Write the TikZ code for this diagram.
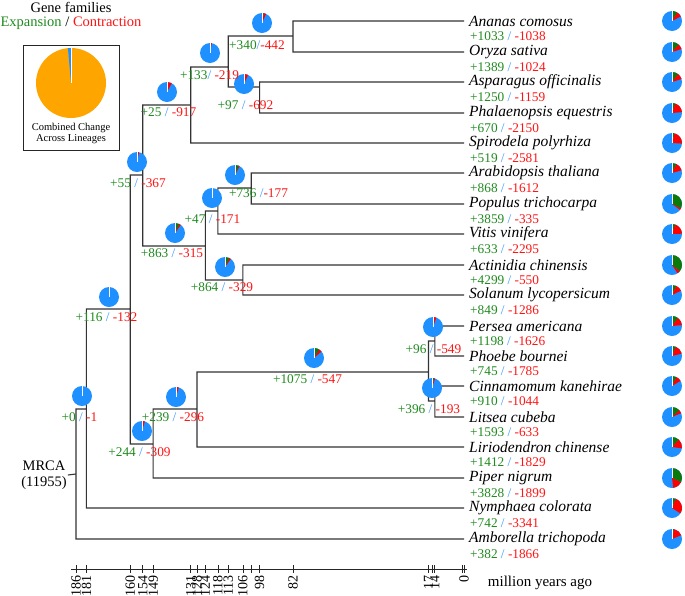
\documentclass[tikz,border=0pt]{standalone}
\usepackage{fontspec}
\setmainfont{Liberation Serif}
\usepackage{tikz}
\usetikzlibrary{positioning}

\definecolor{expgreen}{HTML}{1F8A1F}
\definecolor{conred}{HTML}{FF1414}
\definecolor{slashblue}{HTML}{3D9BFF}
\definecolor{pieblue}{HTML}{1E90FF}
\definecolor{piegreen}{HTML}{0B7A0B}
\definecolor{piered}{HTML}{FF0000}
\definecolor{pieorange}{HTML}{FFA500}

% age (million years) -> x
\newcommand{\ax}[1]{464-2.086*#1}
\newcommand{\chg}[2]{\textcolor{expgreen}{+#1} \textcolor{slashblue}{/} \textcolor{conred}{-#2}}
% pie: centre, radius, expansion, contraction (of 11955 families)
\newcommand{\genepie}[4]{%
  \pgfmathsetmacro\pieg{90-(#3/11955)*360}%
  \pgfmathsetmacro\pier{\pieg-(#4/11955)*360}%
  \fill[pieblue] (#1) circle (#2);
  \fill[piegreen] (#1) -- ++(90:#2) arc (90:\pieg:#2) -- cycle;
  \fill[piered] (#1) -- ++(\pieg:#2) arc (\pieg:\pier:#2) -- cycle;
  \draw[white,line width=0.4pt] (#1) -- ++(90:#2);
}

\begin{document}
\begin{tikzpicture}[x=1pt,y=-1pt,
    branch/.style={draw=black!80,line width=1.1pt},
    taxon/.style={anchor=west,inner sep=0pt,font=\fontsize{15.5}{17}\selectfont\itshape},
    count/.style={anchor=west,inner sep=0pt,font=\fontsize{13.3}{15}\selectfont},
    change/.style={inner sep=0pt,font=\fontsize{13.3}{15}\selectfont},
    agelabel/.style={anchor=east,rotate=90,inner sep=0pt,font=\fontsize{14}{16}\selectfont}]
\useasboundingbox (0,0) rectangle (685,595);

% legend
\node (title) at (71,7) {\fontsize{14.5}{16}\selectfont Gene families};
\node (key) at (71,23) {\fontsize{14.5}{16}\selectfont\textcolor{expgreen}{Expansion} / \textcolor{conred}{Contraction}};
\draw[line width=0.8pt,black!85] (23,45) rectangle (119,150);
\coordinate (total) at (71,83);
\fill[pieorange] (total) circle (35pt);
\fill[pieblue] (total) -- ++(90:35pt) arc (90:95:35pt) -- cycle;
\draw[white,line width=0.4pt] (total) -- ++(90:35pt);
\node[align=center,inner sep=0pt,font=\fontsize{10.5}{11}\selectfont] (totaltext) at (71,133) {Combined Change\\Across Lineages};

% tips
\foreach \id/\y/\name/\up/\down in {
    ananas/21/Ananas comosus/1033/1038,
    oryza/52/Oryza sativa/1389/1024,
    asparagus/82/Asparagus officinalis/1250/1159,
    phalaenopsis/113/Phalaenopsis equestris/670/2150,
    spirodela/143/Spirodela polyrhiza/519/2581,
    arabidopsis/173/Arabidopsis thaliana/868/1612,
    populus/204/Populus trichocarpa/3859/335,
    vitis/234/Vitis vinifera/633/2295,
    actinidia/265/Actinidia chinensis/4299/550,
    solanum/295/Solanum lycopersicum/849/1286,
    persea/326/Persea americana/1198/1626,
    phoebe/356/Phoebe bournei/745/1785,
    cinnamomum/386/Cinnamomum kanehirae/910/1044,
    litsea/417/Litsea cubeba/1593/633,
    liriodendron/447/Liriodendron chinense/1412/1829,
    piper/478/Piper nigrum/3828/1899,
    nymphaea/508/Nymphaea colorata/742/3341,
    amborella/539/Amborella trichopoda/382/1866}
{
  \coordinate (\id) at (464,\y);
  \node[taxon] (\id-name) at (469,\y) {\name};
  \node[count] (\id-count) at (470,\y+15) {\chg{\up}{\down}};
  \genepie{672,\y}{10pt}{\up}{\down}
}

% internal nodes
\coordinate (n186) at ({\ax{186}},474);
\coordinate (n181) at ({\ax{181}},409);
\coordinate (n160) at ({\ax{160}},309);
\coordinate (n154) at ({\ax{154}},175);
\coordinate (n131) at ({\ax{131}},105);
\coordinate (n113) at ({\ax{113}},67);
\coordinate (n82) at ({\ax{82}},36);
\coordinate (n98) at ({\ax{98}},87);
\coordinate (n124) at ({\ax{124}},246);
\coordinate (n118) at ({\ax{118}},211);
\coordinate (n102) at ({\ax{102}},188);
\coordinate (n106) at ({\ax{106}},280);
\coordinate (n149) at ({\ax{149}},444);
\coordinate (n128) at ({\ax{128}},409);
\coordinate (n17) at ({\ax{17}},372);
\coordinate (n14p) at ({\ax{14}},341);
\coordinate (n14c) at ({\ax{14}},401);

\node[align=center,inner sep=1pt,font=\fontsize{14.5}{16}\selectfont] (mrca) at (44,475) {MRCA\\(11955)};

\draw[branch] (mrca.east) -- (n186)
  (n186) |- (n181) (n186) |- (amborella)
  (n181) |- (n160) (n181) |- (nymphaea)
  (n160) |- (n154) (n160) |- (n149)
  (n154) |- (n131) (n154) |- (n124)
  (n131) |- (n113) (n131) |- (spirodela)
  (n113) |- (n82) (n113) |- (n98)
  (n82) |- (ananas) (n82) |- (oryza)
  (n98) |- (asparagus) (n98) |- (phalaenopsis)
  (n124) |- (n118) (n124) |- (n106)
  (n118) |- (n102) (n118) |- (vitis)
  (n102) |- (arabidopsis) (n102) |- (populus)
  (n106) |- (actinidia) (n106) |- (solanum)
  (n149) |- (n128) (n149) |- (piper)
  (n128) |- (n17) (n128) |- (liriodendron)
  (n17) |- (n14p) (n17) |- (n14c)
  (n14p) |- (persea) (n14p) |- (phoebe)
  (n14c) |- (cinnamomum) (n14c) |- (litsea);

% pies on branches
\foreach \px/\py/\up/\down in {262/23/340/442, 244/84/97/692, 210/53/133/219,
    167/92/25/917, 137/162/55/367, 175/233/863/315, 212/198/47/171,
    235/175/736/177, 225/267/864/329, 109/297/116/132, 82/396/0/1,
    142/431/244/309, 176/397/239/296, 314/358/1075/547, 433/327/96/549,
    432/388/396/193}
  {\genepie{\px,\py}{10pt}{\up}{\down}}

% changes on branches
\node[change] (lab82) at (257,45) {\textcolor{expgreen}{+340}\textcolor{slashblue}{/}\textcolor{conred}{-442}};
\node[change] (lab98) at (245.5,105) {\chg{97}{692}};
\node[change] (lab113) at (209.5,75) {\textcolor{expgreen}{+133}\textcolor{slashblue}{/} \textcolor{conred}{-219}};
\node[change] (lab131) at (168.5,112) {\chg{25}{917}};
\node[change] (lab154) at (138,183) {\chg{55}{367}};
\node[change] (lab124) at (172,253) {\chg{863}{315}};
\node[change] (lab118) at (212.5,219) {\chg{47}{171}};
\node[change] (lab102) at (258.5,193) {\textcolor{expgreen}{+736} \textcolor{slashblue}{/}\textcolor{conred}{-177}};
\node[change] (lab106) at (222,287) {\chg{864}{329}};
\node[change] (lab160) at (106.5,317) {\chg{116}{132}};
\node[change] (lab181) at (79.5,417) {\chg{0}{1}};
\node[change] (lab149) at (139.5,452) {\chg{244}{309}};
\node[change] (lab128) at (173,417) {\chg{239}{296}};
\node[change] (lab17) at (307.5,379) {\chg{1075}{547}};
\node[change] (lab14p) at (433.5,349) {\chg{96}{549}};
\node[change] (lab14c) at (429,409) {\chg{396}{193}};

% time axis
\draw[line width=0.9pt,black!85] (71,569) -- (467,569);
\foreach \a in {186,181,160,154,149,131,128,124,118,113,106,98,82,17,14,0}
{
  \draw[line width=0.7pt,black!85] ({\ax{\a}},565) -- ({\ax{\a}},573);
  \node[agelabel] (age\a) at ({\ax{\a}},575) {\a};
}
\foreach \a in {102,15,1}
  \draw[line width=0.7pt,black!85] ({\ax{\a}},565) -- ({\ax{\a}},573);
\node[font=\fontsize{15}{17}\selectfont] (unit) at (540,583) {million years ago};
\end{tikzpicture}
\end{document}
